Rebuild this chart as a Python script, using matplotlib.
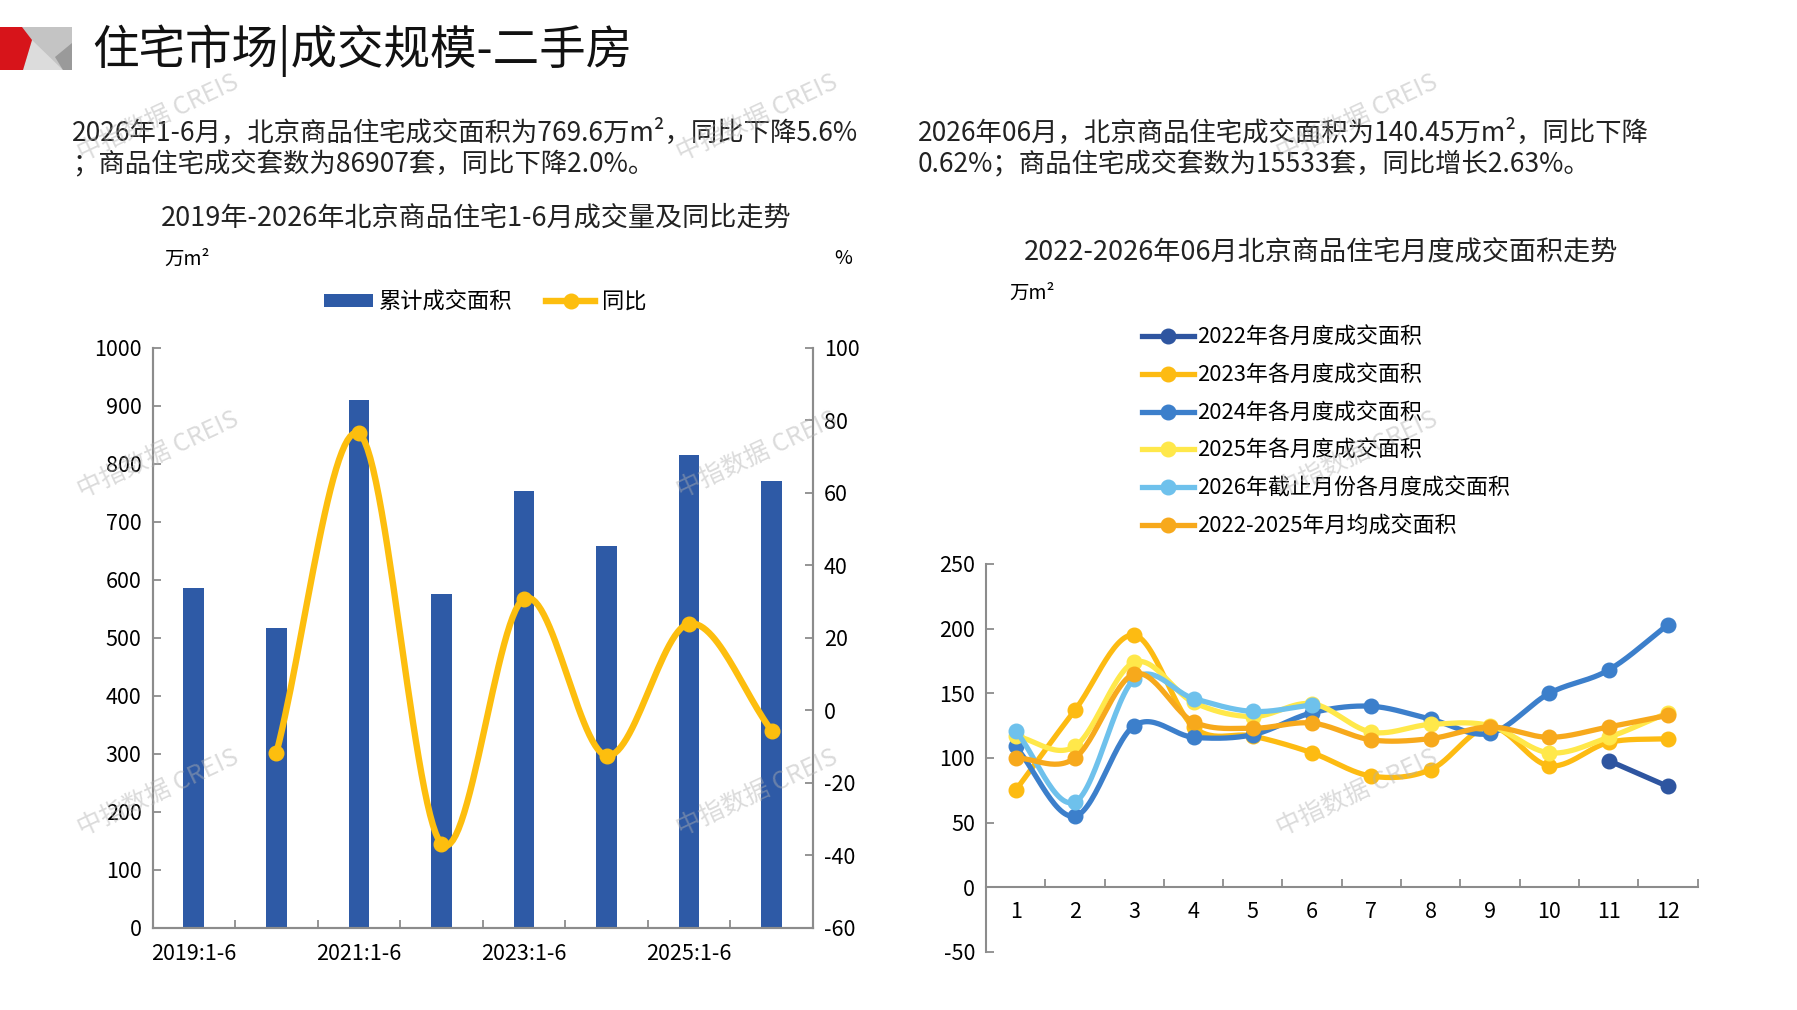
import numpy as np
import matplotlib
matplotlib.use('Agg')
import matplotlib.pyplot as plt
from matplotlib.patches import Polygon, Patch
from matplotlib.lines import Line2D

plt.rcParams['font.family'] = ['Noto Sans CJK SC', 'DejaVu Sans']
plt.rcParams['axes.unicode_minus'] = False

# ---- left chart data: Jan-Jun cumulative area and YoY ----
periods = ['2019:1-6', '2020:1-6', '2021:1-6', '2022:1-6',
           '2023:1-6', '2024:1-6', '2025:1-6', '2026:1-6']
area_h1 = [585, 516, 910, 575, 752, 658, 815, 769.6]
yoy_h1 = [np.nan, -11.8, 76.3, -36.8, 30.8, -12.5, 23.9, -5.6]

# ---- right chart data: monthly area ----
months = list(range(1, 13))
m2022 = [np.nan] * 10 + [98, 78]
m2023 = [75, 137, 195, 124, 117, 104, 86, 91, 124, 94, 112, 115]
m2024 = [109, 55, 125, 116, 118, 135, 140, 130, 119, 150, 168, 203]
m2025 = [117, 109, 174, 143, 132, 142, 120, 126, 125, 104, 116, 135]
m2026 = [121, 66, 161, 146, 136, 141]
m_avg = [100, 100, 165, 128, 123, 127, 114, 115, 124, 116, 124, 133]

series = [
    ('2022年各月度成交面积', m2022, '#2E55A0'),
    ('2023年各月度成交面积', m2023, '#FDBB12'),
    ('2024年各月度成交面积', m2024, '#3C7FCB'),
    ('2025年各月度成交面积', m2025, '#FFE84A'),
    ('2026年截止月份各月度成交面积', m2026, '#6EC1EC'),
    ('2022-2025年月均成交面积', m_avg, '#F7A91C'),
]

CJK = ['Noto Sans CJK SC', 'DejaVu Sans']
AXIS_GRAY = '#8C8C8C'
TICK_FS = 15.5


def smooth(x, y, n=30):
    # Catmull-Rom curve through the points (like a smoothed Excel line)
    x = np.asarray(x, float)
    y = np.asarray(y, float)
    if len(x) < 3:
        return x, y
    px = np.concatenate([[2 * x[0] - x[1]], x, [2 * x[-1] - x[-2]]])
    py = np.concatenate([[2 * y[0] - y[1]], y, [2 * y[-1] - y[-2]]])
    xs, ys = [], []
    t = np.linspace(0, 1, n)
    for i in range(1, len(px) - 2):
        for arr, out in ((px, xs), (py, ys)):
            p0, p1, p2, p3 = arr[i - 1], arr[i], arr[i + 1], arr[i + 2]
            out.append(0.5 * ((2 * p1) + (-p0 + p2) * t
                              + (2 * p0 - 5 * p1 + 4 * p2 - p3) * t ** 2
                              + (-p0 + 3 * p1 - 3 * p2 + p3) * t ** 3))
    return np.concatenate(xs), np.concatenate(ys)


def segments(x, y):
    x = np.asarray(x, float)
    y = np.asarray(y, float)
    ok = ~np.isnan(y)
    segs, cur = [], []
    for xi, yi, k in zip(x, y, ok):
        if k:
            cur.append((xi, yi))
        elif cur:
            segs.append(cur)
            cur = []
    if cur:
        segs.append(cur)
    return segs


fig = plt.figure(figsize=(17.97, 10.10), dpi=100)
W, H = 1797, 1010


def fx(px):
    return px / W


def fy(py):
    return 1 - py / H


# ---- header logo ----
logo = [
    ([(0, 27), (72, 27), (72, 70), (0, 70)], '#C4C4C4'),
    ([(32, 40), (23, 70), (63, 70)], '#DCDCDC'),
    ([(55, 57), (72, 43), (72, 70), (63, 70)], '#9A9A9A'),
    ([(0, 27), (22, 27), (32, 40), (23, 70), (0, 70)], '#D7141A'),
]
for pts, col in logo:
    fig.patches.append(Polygon([(fx(a), fy(b)) for a, b in pts], closed=True,
                               transform=fig.transFigure, facecolor=col,
                               edgecolor='none'))

fig.text(fx(92), fy(51), '住宅市场|成交规模-二手房', fontsize=33.5, family=CJK,
         va='center', ha='left', color='#111111')

# ---- paragraphs ----
PFS = 19
fig.text(fx(72), fy(133), '2026年1-6月，北京商品住宅成交面积为769.6万m²，同比下降5.6%',
         fontsize=PFS, family=CJK, va='center', color='#222222')
fig.text(fx(72), fy(165), '；商品住宅成交套数为86907套，同比下降2.0%。',
         fontsize=PFS, family=CJK, va='center', color='#222222')
fig.text(fx(918), fy(133), '2026年06月，北京商品住宅成交面积为140.45万m²，同比下降',
         fontsize=PFS, family=CJK, va='center', color='#222222')
fig.text(fx(918), fy(165), '0.62%；商品住宅成交套数为15533套，同比增长2.63%。',
         fontsize=PFS, family=CJK, va='center', color='#222222')

# ---- left chart ----
ax1 = fig.add_axes([fx(152.5), fy(928), (813 - 152.5) / W, (928 - 347.5) / H])
xpos = np.arange(len(periods))
ax1.bar(xpos, area_h1, width=0.25, color='#2E5AA6', zorder=2)
ax1.set_xlim(-0.5, len(periods) - 0.5)
ax1.set_ylim(0, 1000)
ax1.set_yticks(range(0, 1001, 100))
ax1.set_xticks(xpos[::2])
ax1.set_xticklabels(periods[::2])
ax1.set_xticks(np.arange(0.5, len(periods) - 1, 1), minor=True)
ax1.tick_params(axis='x', which='major', length=0, pad=11, labelsize=TICK_FS)
ax1.tick_params(axis='x', which='minor', direction='in', length=6,
                color=AXIS_GRAY, width=1.3)
ax1.tick_params(axis='y', direction='in', length=6, color=AXIS_GRAY,
                width=1.3, labelsize=TICK_FS, pad=8)
ax1.spines['top'].set_visible(False)
for s in ['left', 'bottom', 'right']:
    ax1.spines[s].set_color(AXIS_GRAY)
    ax1.spines[s].set_linewidth(1.5)

ax1b = ax1.twinx()
ax1b.set_ylim(-60, 100)
ax1b.set_yticks(range(-60, 101, 20))
ax1b.tick_params(axis='y', direction='in', length=6, color=AXIS_GRAY,
                 width=1.3, labelsize=TICK_FS, pad=8)
ax1b.spines['top'].set_visible(False)
for s in ['left', 'bottom', 'right']:
    ax1b.spines[s].set_color(AXIS_GRAY)
    ax1b.spines[s].set_linewidth(1.5)
for seg in segments(xpos, yoy_h1):
    sx, sy = smooth([p[0] for p in seg], [p[1] for p in seg])
    ax1b.plot(sx, sy, color='#FDBE0E', lw=4.6, solid_capstyle='round', zorder=3)
    ax1b.plot([p[0] for p in seg], [p[1] for p in seg], 'o', color='#FDBE0E',
              ms=10.5, zorder=4)

fig.text(fx(476), fy(218), '2019年-2026年北京商品住宅1-6月成交量及同比走势',
         fontsize=19.5, family=CJK, ha='center', va='center', color='#222222')
fig.text(fx(164), fy(259), '万m²', fontsize=14, family=CJK, va='center')
fig.text(fx(843), fy(259), '%', fontsize=14, family=CJK, va='center', ha='center')

h_bar = Patch(facecolor='#2E5AA6', edgecolor='none')
h_line = Line2D([], [], color='#FDBE0E', lw=4.6, marker='o', ms=10.5)
fig.legend([h_bar, h_line], ['累计成交面积', '同比'], loc='center',
           bbox_to_anchor=(fx(485), fy(302)), ncol=2, frameon=False,
           prop={'family': CJK, 'size': 16}, handlelength=2.2,
           handleheight=0.55, columnspacing=1.5, handletextpad=0.3)

# ---- right chart ----
ax2 = fig.add_axes([fx(986), fy(952), (1697.5 - 986) / W, (952 - 564) / H])
ax2.set_xlim(0.5, 12.5)
ax2.set_ylim(-50, 250)
ax2.set_yticks(range(-50, 251, 50))
ax2.set_xticks(months)
ax2.set_xticks(np.arange(1.5, 12.6, 1), minor=True)
ax2.spines['bottom'].set_position(('data', 0))
for s in ['top', 'right']:
    ax2.spines[s].set_visible(False)
for s in ['left', 'bottom']:
    ax2.spines[s].set_color(AXIS_GRAY)
    ax2.spines[s].set_linewidth(1.5)
ax2.tick_params(axis='x', which='major', length=0, pad=10, labelsize=TICK_FS)
ax2.tick_params(axis='x', which='minor', direction='in', length=6,
                color=AXIS_GRAY, width=1.3)
ax2.tick_params(axis='y', direction='in', length=6, color=AXIS_GRAY,
                width=1.3, labelsize=TICK_FS, pad=8)

handles = []
for i, (name, vals, col) in enumerate(series):
    xs = months[:len(vals)]
    for seg in segments(xs, vals):
        sx, sy = smooth([p[0] for p in seg], [p[1] for p in seg])
        ax2.plot(sx, sy, color=col, lw=3.8, solid_capstyle='round',
                 zorder=3 + i, clip_on=False)
        ax2.plot([p[0] for p in seg], [p[1] for p in seg], 'o', color=col,
                 ms=10.5, zorder=3 + i, clip_on=False)
    handles.append(Line2D([], [], color=col, lw=3.8, marker='o', ms=10.5))

fig.legend(handles, [s[0] for s in series], loc='upper left',
           bbox_to_anchor=(fx(1122), fy(307)), frameon=False,
           prop={'family': CJK, 'size': 15.8}, handlelength=2.4,
           handletextpad=0.1, labelspacing=0.72)

fig.text(fx(1321), fy(252), '2022-2026年06月北京商品住宅月度成交面积走势',
         fontsize=19.5, family=CJK, ha='center', va='center', color='#222222')
fig.text(fx(1009), fy(293), '万m²', fontsize=14, family=CJK, va='center')

# ---- watermarks ----
for cx in (158, 757, 1357):
    for cy in (118, 455, 793):
        fig.text(fx(cx), fy(cy), '中指数据 CREIS', fontsize=18, family=CJK,
                 rotation=25, ha='center', va='center', color='#B0B0B0',
                 alpha=0.45, zorder=20)

fig.savefig('out.png', dpi=100)
